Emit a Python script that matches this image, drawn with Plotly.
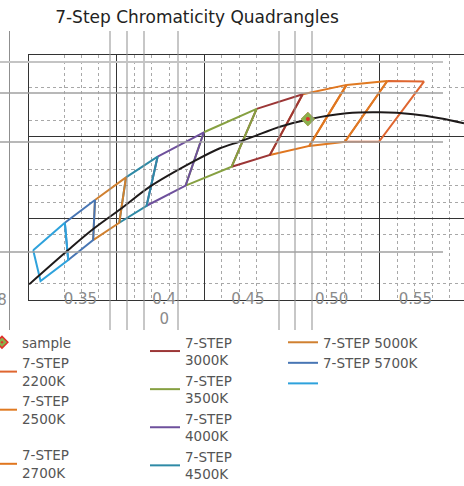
import plotly.graph_objects as go

# ---------------- data ----------------
TITLE = "7-Step Chromaticity Quadrangles"

quad_names = ["7-STEP<br>2200K", "7-STEP<br>2500K", "7-STEP<br>2700K",
              "7-STEP<br>3000K", "7-STEP<br>3500K", "7-STEP<br>4000K", "7-STEP<br>4500K",
              "7-STEP 5000K", "7-STEP 5700K", " "]
quad_colors = ["#df6630", "#e07a22", "#e0761f", "#9c3636", "#86a041",
               "#6e509c", "#2e8aa6", "#d08030", "#4876b4", "#2ea2dc"]
quad_legend = ["legend", "legend", "legend", "legend2", "legend2", "legend2", "legend2",
               "legend3", "legend3", "legend3"]
quad_group = ["a", "a", "b", "c", "c", "c", "c", "d", "d", "d"]

# corners of each quadrangle: TL, TR, BR, BL (closed back to TL)
q2200_x = [0.5332, 0.5551, 0.5282, 0.5079, 0.5332]
q2200_y = [0.4141, 0.4137, 0.3769, 0.3769, 0.4141]
q2500_x = [0.5089, 0.5332, 0.5079, 0.4866, 0.5089]
q2500_y = [0.4117, 0.4141, 0.3769, 0.3743, 0.4117]
q2700_x = [0.4827, 0.5089, 0.4866, 0.4631, 0.4827]
q2700_y = [0.4060, 0.4117, 0.3743, 0.3688, 0.4060]
q3000_x = [0.4552, 0.4827, 0.4631, 0.4403, 0.4552]
q3000_y = [0.3970, 0.4060, 0.3688, 0.3616, 0.3970]
q3500_x = [0.4237, 0.4552, 0.4403, 0.4128, 0.4237]
q3500_y = [0.3827, 0.3970, 0.3616, 0.3500, 0.3827]
q4000_x = [0.3961, 0.4237, 0.4128, 0.3895, 0.3961]
q4000_y = [0.3678, 0.3827, 0.3500, 0.3377, 0.3678]
q4500_x = [0.3772, 0.3961, 0.3895, 0.3732, 0.3772]
q4500_y = [0.3551, 0.3678, 0.3377, 0.3273, 0.3551]
q5000_x = [0.3587, 0.3772, 0.3732, 0.3576, 0.3587]
q5000_y = [0.3412, 0.3551, 0.3273, 0.3167, 0.3412]
q5700_x = [0.3407, 0.3587, 0.3576, 0.3427, 0.3407]
q5700_y = [0.3273, 0.3412, 0.3167, 0.3045, 0.3273]
q6500_x = [0.3218, 0.3407, 0.3427, 0.3262, 0.3218]
q6500_y = [0.3104, 0.3273, 0.3045, 0.2916, 0.3104]

quads_x = [q2200_x, q2500_x, q2700_x, q3000_x, q3500_x, q4000_x, q4500_x, q5000_x, q5700_x, q6500_x]
quads_y = [q2200_y, q2500_y, q2700_y, q3000_y, q3500_y, q4000_y, q4500_y, q5000_y, q5700_y, q6500_y]

# black locus curve
locus_x = [0.3194, 0.3427, 0.3582, 0.3746, 0.3915, 0.4173, 0.4333, 0.4448, 0.4532,
           0.4691, 0.4866, 0.5089, 0.5288, 0.5487, 0.5646, 0.5790]
locus_y = [0.2896, 0.3106, 0.3239, 0.3362, 0.3494, 0.3647, 0.3729, 0.3769, 0.3800,
           0.3861, 0.3907, 0.3943, 0.3949, 0.3937, 0.3913, 0.3882]

sample_x = [0.4858]
sample_y = [0.3908]

# axes
x_range = [0.3193, 0.5790]
y_range = [0.28, 0.43]
x_tickvals = [0.35, 0.40, 0.45, 0.50, 0.55]
x_ticktext = ["0.35", "0.4<br>0", "0.45", "0.50", "0.55"]
y_tickvals = [0.28]
y_ticktext = ["0.28"]
x_grid_major = [0.3718, 0.4240, 0.5285]
x_grid_minor = [0.3402, 0.3506, 0.3610, 0.3822, 0.3927, 0.4031, 0.4136, 0.4345, 0.4449,
                0.4554, 0.4972, 0.5076, 0.5181, 0.5390, 0.5494, 0.5599, 0.5703]
y_grid_major = [0.33, 0.38]
y_grid_minor = [0.29, 0.32, 0.34, 0.35, 0.36, 0.39, 0.41]

# ---------------- figure ----------------
W, H = 464, 486
ML, MT, MB = 29, 55, 186
PW, PH = W - ML, H - MT - MB

def px_x(p):
    return (p - ML) / PW

def px_y(p):
    return (H - MB - p) / PH

fig = go.Figure()

for qx, qy, name, col, lg, grp in zip(quads_x, quads_y, quad_names, quad_colors, quad_legend, quad_group):
    fig.add_trace(go.Scatter(x=qx, y=qy, mode="lines", name=name, legend=lg, legendgroup=grp,
                             line=dict(color=col, width=2)))

fig.add_trace(go.Scatter(x=locus_x, y=locus_y, mode="lines", showlegend=False,
                         line=dict(color="#1e1a1a", width=2, shape="spline")))

# sample point: legend entry + green diamond with red centre on the chart
fig.add_trace(go.Scatter(x=sample_x, y=sample_y, mode="markers", name="sample", legend="legend",
                         legendgroup="a", legendrank=1,
                         marker=dict(symbol="diamond-dot", size=9, color="#8ab04c",
                                     line=dict(color="#e0302a", width=1.5))))
fig.add_trace(go.Scatter(x=sample_x, y=sample_y, mode="markers", showlegend=False,
                         marker=dict(symbol="diamond", size=11, color="#8ab04c", line=dict(width=0))))
fig.add_trace(go.Scatter(x=sample_x, y=sample_y, mode="markers", showlegend=False,
                         marker=dict(symbol="circle", size=4, color="#e0302a", line=dict(width=0))))

# invisible trace to host the grid axes
fig.add_trace(go.Scatter(x=[], y=[], xaxis="x2", yaxis="y2", showlegend=False))

for i in range(10):
    fig.data[i].legendrank = 2 + i

# stray grey lines (layout decoration)
shapes = []
for p in [9.5, 110, 127, 144, 178, 279, 295, 312]:
    shapes.append(dict(type="line", xref="paper", yref="paper", x0=px_x(p), x1=px_x(p),
                       y0=px_y(31), y1=px_y(330), line=dict(color="#8f8f8f", width=1)))
for p, c, w in [(62, "#c4c4c4", 2), (93, "#a0a0a0", 1.3), (142, "#a0a0a0", 1.3), (252, "#a0a0a0", 1.3)]:
    shapes.append(dict(type="line", xref="paper", yref="paper", x0=px_x(0), x1=px_x(443),
                       y0=px_y(p), y1=px_y(p), line=dict(color=c, width=w)))

FONT = "DejaVu Sans"
leg_common = dict(font=dict(family=FONT, size=13.5, color="#555555"), bgcolor="rgba(0,0,0,0)",
                  borderwidth=0, xanchor="left", yanchor="top",
                  orientation="v", itemclick=False, itemdoubleclick=False)

fig.update_layout(
    template="none",
    width=W, height=H,
    margin=dict(l=ML, r=0, t=MT, b=MB, autoexpand=False),
    paper_bgcolor="white", plot_bgcolor="white",
    title=dict(text=TITLE, x=197 / W, xanchor="center", y=1 - 17 / H, yanchor="middle",
               font=dict(family=FONT, size=17, color="#222222")),
    xaxis=dict(range=x_range, tickvals=x_tickvals, ticktext=x_ticktext, showgrid=False,
               zeroline=False, showline=True, mirror=True, linecolor="#333333", linewidth=1.3,
               ticks="", automargin=False, ticklabelstandoff=-15,
               tickfont=dict(family=FONT, size=15, color="#8a8a8a")),
    yaxis=dict(range=y_range, tickvals=y_tickvals, ticktext=y_ticktext, showgrid=False,
               zeroline=False, showline=True, mirror=True, linecolor="#333333", linewidth=1.3,
               ticks="", automargin=False, ticklabelstandoff=18,
               tickfont=dict(family=FONT, size=15, color="#8a8a8a")),
    xaxis2=dict(range=x_range, overlaying="x", anchor="y2", side="bottom", tickvals=x_grid_major,
                showticklabels=False, showgrid=True, gridcolor="#333333", gridwidth=1.2,
                zeroline=False, showline=False, ticks="", automargin=False,
                minor=dict(tickvals=x_grid_minor, showgrid=True, gridcolor="#a8a8a8",
                           griddash="dot", gridwidth=1, ticks="")),
    yaxis2=dict(range=y_range, overlaying="y", anchor="x2", side="left", tickvals=y_grid_major,
                showticklabels=False, showgrid=True, gridcolor="#333333", gridwidth=1.2,
                zeroline=False, showline=False, ticks="", automargin=False,
                minor=dict(tickvals=y_grid_minor, showgrid=True, gridcolor="#a8a8a8",
                           griddash="dot", gridwidth=1, ticks="")),
    shapes=shapes,
    legend=dict(x=px_x(-18), y=px_y(327), tracegroupgap=16, **leg_common),
    legend2=dict(x=px_x(145), y=px_y(327), tracegroupgap=0, **leg_common),
    legend3=dict(x=px_x(283), y=px_y(327), tracegroupgap=0, **leg_common),
)

fig.write_html("out.html", config={"displayModeBar": False},
               post_script="document.body.style.margin='0';document.body.style.overflow='hidden';")
